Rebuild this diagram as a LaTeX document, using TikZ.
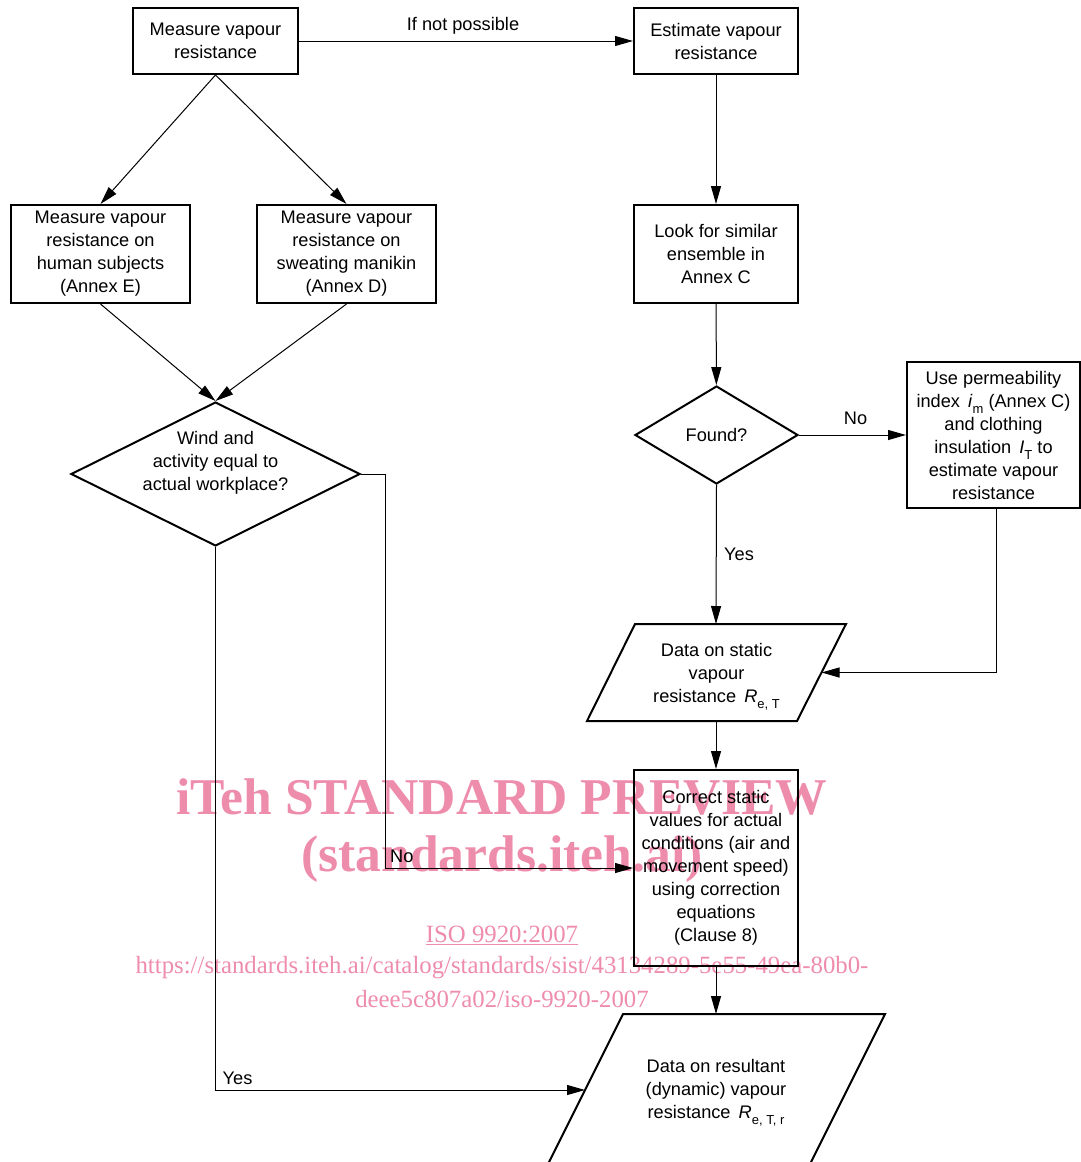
\documentclass[tikz,border=0pt]{standalone}
\usepackage{fontspec}
\setmainfont{Liberation Sans}
\newfontfamily\wmfont{Liberation Serif}
\usetikzlibrary{arrows.meta,shapes.geometric}
\definecolor{wmpink}{RGB}{238,140,172}
\newcommand\mysb[1]{\raisebox{-6pt}{\fontsize{13}{13}\selectfont #1}}
\begin{document}
\begin{tikzpicture}[x=1pt,y=-1pt,
  every node/.style={font=\fontsize{18.2}{23}\selectfont},
  box/.style={draw,line width=2pt,align=center,inner sep=0pt},
  dia/.style={draw,diamond,line width=2pt,inner sep=0pt},
  outline/.style={draw,line width=2pt,line join=miter},
  txt/.style={align=center,inner sep=0pt},
  lbl/.style={inner sep=0pt,anchor=base},
  conn/.style={line width=1pt,-{Triangle[length=18pt,width=10pt]}},
  wmbig/.style={inner sep=0pt,text=wmpink,font=\wmfont\bfseries\fontsize{51.6}{51.6}\selectfont},
  wmsmall/.style={inner sep=0pt,text=wmpink,font=\wmfont\fontsize{24.8}{24.8}\selectfont}
]
\useasboundingbox (0,0) rectangle (1081,1162);
\clip (0,0) rectangle (1081,1162);

% boxes
\node[box,minimum width=165pt,minimum height=66pt] (A) at (215.5,41) {Measure vapour\\resistance};
\node[box,minimum width=164pt,minimum height=66pt] (B) at (716,41) {Estimate vapour\\resistance};
\node[box,minimum width=179pt,minimum height=98pt] (C) at (100.5,254) {Measure vapour\\resistance on\\human subjects\\(Annex E)};
\node[box,minimum width=179pt,minimum height=98pt] (D) at (346.5,254) {Measure vapour\\resistance on\\sweating manikin\\(Annex D)};
\node[box,minimum width=164pt,minimum height=98pt] (F) at (716,254) {Look for similar\\ensemble in\\Annex C};
\node[dia,minimum width=289pt,minimum height=144pt] (E) at (215.5,474) {};
\node[txt] (Et) at (215.5,463) {Wind and\\activity equal to\\actual workplace?};
\node[dia,minimum width=163pt,minimum height=98pt] (Q) at (716.5,435) {Found?};
\node[box,minimum width=173pt,minimum height=146pt] (H) at (993.5,435) {Use permeability\\index \,\textit{i}\mysb{m} (Annex C)\\and clothing\\insulation \,\textit{I}\mysb{T} to\\estimate vapour\\resistance};
\node[box,minimum width=164pt,minimum height=196pt] (G) at (716,868) {Correct static\\values for actual\\conditions (air and\\movement speed)\\using correction\\equations\\(Clause 8)};

% parallelograms (data)
\draw[outline] (635,624) -- (846,624) -- (797,721) -- (587,721) -- cycle;
\node[txt] (P1) at (716.5,676.5) {Data on static\\vapour\\resistance \,\textit{R}\mysb{e, T}};
\coordinate (P1n) at (716,624);
\coordinate (P1e) at (821.5,672.5);
\coordinate (P1s) at (716,721);
\draw[outline] (623,1014) -- (885,1014) -- (809,1166) -- (547,1166) -- cycle;
\node[txt] (P2) at (716,1093) {Data on resultant\\(dynamic) vapour\\resistance \,\textit{R}\mysb{e, T, r}};
\coordinate (P2n) at (716,1014);
\coordinate (P2w) at (585,1090);

% connectors
\draw[conn] (A) -- (B);
\draw[conn] (A.south) -- (C.north);
\draw[conn] (A.south) -- (D.north);
\draw[conn] (C.south) -- (E.north);
\draw[conn] (D.south) -- (E.north);
\draw[conn] (E.east) -- ++(24,0) |- (G.west);
\draw[conn] (E.south) |- (P2w);
\draw[conn] (B) -- (F);
\draw[conn] (F) -- (Q);
\draw[conn] (Q.east) -- (H.west);
\draw[conn] (Q.south) -- (P1n);
\draw[conn] ([xshift=3pt]H.south) |- (P1e);
\draw[conn] (P1s) -- (G.north);
\draw[conn] (G.south) -- (P2n);

% labels
\node[lbl] (l1) at (463,30.5) {If not possible};
\node[lbl] (l2) at (855.5,424) {No};
\node[lbl] (l3) at (739,560.5) {Yes};
\node[lbl,anchor=base west] (l4) at (390,862.5) {No};
\node[lbl,anchor=base west] (l5) at (222.5,1084) {Yes};

% watermark
\begin{scope}[blend mode=multiply]
\node[wmbig] (w1) at (502,797) {iTeh STANDARD PREVIEW};
\node[wmbig] (w2) at (502,859) {(standards.iteh.ai)};
\node[wmsmall] (w3) at (502,935) {\underline{ISO 9920:2007}};
\node[wmsmall] (w4) at (502,968) {https://standards.iteh.ai/catalog/standards/sist/43134289-5e55-49ea-80b0-};
\node[wmsmall] (w5) at (502,999) {deee5c807a02/iso-9920-2007};
\end{scope}
\end{tikzpicture}
\end{document}
